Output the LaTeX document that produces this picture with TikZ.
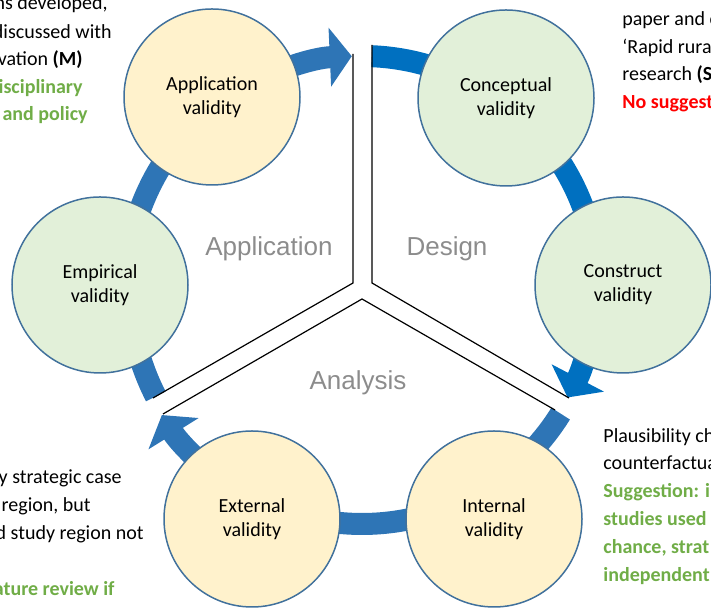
\documentclass[tikz,border=0pt]{standalone}
\usepackage{fontspec}
\setmainfont{Carlito}
\newfontfamily\phasefont{Liberation Sans}
\usetikzlibrary{arrows.meta}

\definecolor{flowblue}{HTML}{2E75B6}
\definecolor{designblue}{HTML}{0070C0}
\definecolor{ringblue}{HTML}{41719C}
\definecolor{appyellow}{HTML}{FFF2CC}
\definecolor{valgreen}{HTML}{E2F0D9}
\definecolor{notegreen}{HTML}{70AD47}
\definecolor{phasegray}{HTML}{8C8C8C}

\begin{document}
\begin{tikzpicture}[x=0.5pt, y=0.5pt,
  validity/.style={circle, draw=ringblue, line width=0.75pt, minimum size=88pt, inner sep=0pt, align=center, font=\fontsize{10}{12}\selectfont},
  appcircle/.style={validity, fill=appyellow},
  valcircle/.style={validity, fill=valgreen},
  flow/.style={line width=11pt, flowblue},
  flowtip/.style={-{Triangle[length=11pt, width=29pt]}},
  wall/.style={draw, line width=0.6pt},
  phase/.style={font=\phasefont\fontsize{13}{15}\selectfont, text=phasegray},
  note/.style={inner sep=0pt, font=\fontsize{10}{12}\selectfont},
  hint/.style={note, text=notegreen, font=\fontsize{10}{12}\selectfont\bfseries}
]
    \useasboundingbox (0,0) rectangle (711,613);
    \clip (0,0) rectangle (711,613);
    \coordinate (hub) at (362,323);

    % cycle arrows round the hub
    \begin{scope}[shift={(hub)}]
        \draw[flow, flowtip] (120:117pt) arc[start angle=120, end angle=92.5, radius=117pt];
        \draw[flow, designblue] (87.6:117pt) arc[start angle=87.6, end angle=60, radius=117pt];
        \draw[flow, designblue] (40:118pt) arc[start angle=40, end angle=10, radius=118pt];
        \draw[flow, designblue, flowtip] (0:116pt) arc[start angle=0, end angle=-27.6, radius=116pt];
        \draw[flow] (-31.9:117pt) arc[start angle=-31.9, end angle=-55, radius=117pt];
        \draw[flow] (-60:117pt) arc[start angle=-60, end angle=-120, radius=117pt];
        \draw[flow, flowtip] (-125:118pt) arc[start angle=-125, end angle=-148, radius=118pt];
        \draw[flow] (-152.7:116pt) arc[start angle=-152.7, end angle=-170, radius=116pt];
        \draw[flow] (170:118pt) arc[start angle=170, end angle=130, radius=118pt];
    \end{scope}

    % the three walls between the phases
    \draw[wall] (353,559) -- (353,330) -- (153,215);
    \draw[wall] (372,568) -- (372,330) -- (569,215);
    \draw[wall] (163,199) -- (362,314) -- (555,203);

    \node[appcircle] (application) at (212,516) {Application\\validity};
    \node[valcircle] (conceptual) at (506,515) {Conceptual\\validity};
    \node[valcircle] (construct) at (623,328) {Construct\\validity};
    \node[valcircle] (empirical) at (100,328) {Empirical\\validity};
    \node[appcircle] (external) at (252,94) {External\\validity};
    \node[appcircle] (internal) at (494,94) {Internal\\validity};

    \node[phase] (applphase) at (269,364) {Application};
    \node[phase] (designphase) at (447,364) {Design};
    \node[phase] (analysisphase) at (358,230) {Analysis};

    % notes, cut off by the page edge
    \node[note, anchor=base east] (tl1) at (108,603) {ns developed,};
    \node[note, anchor=base east] (tl2) at (112,574) {discussed with};
    \node[note, anchor=base east] (tl3) at (83,547) {vation \textbf{(M)}};
    \node[hint, anchor=base east] (tl4) at (83,519) {isciplinary};
    \node[hint, anchor=base east] (tl5) at (88,492) {and policy};

    \node[note, anchor=base west] (tr1) at (622,587) {paper and c};
    \node[note, anchor=base west] (tr2) at (622,559) {‘Rapid rura};
    \node[note, anchor=base west] (tr3) at (622,532) {research \textbf{(S}};
    \node[hint, anchor=base west, text=red] (tr4) at (622,504) {No suggest};

    \node[note, anchor=base west] (br1) at (603,170) {Plausibility ch};
    \node[note, anchor=base west] (br2) at (603,143) {counterfactua};
    \node[hint, anchor=base west] (br3) at (603,115) {Suggestion: i};
    \node[hint, anchor=base west] (br4) at (603,87) {studies used};
    \node[hint, anchor=base west] (br5) at (603,59) {chance, strat};
    \node[hint, anchor=base west] (br6) at (603,31) {independent};

    \node[note, anchor=base east] (bl1) at (122,129) {y strategic case};
    \node[note, anchor=base east] (bl2) at (91,101) {region, but};
    \node[note, anchor=base east] (bl3) at (144,73) {d study region not};
    \node[hint, anchor=base east] (bl4) at (115,17) {ature review if};
\end{tikzpicture}
\end{document}
